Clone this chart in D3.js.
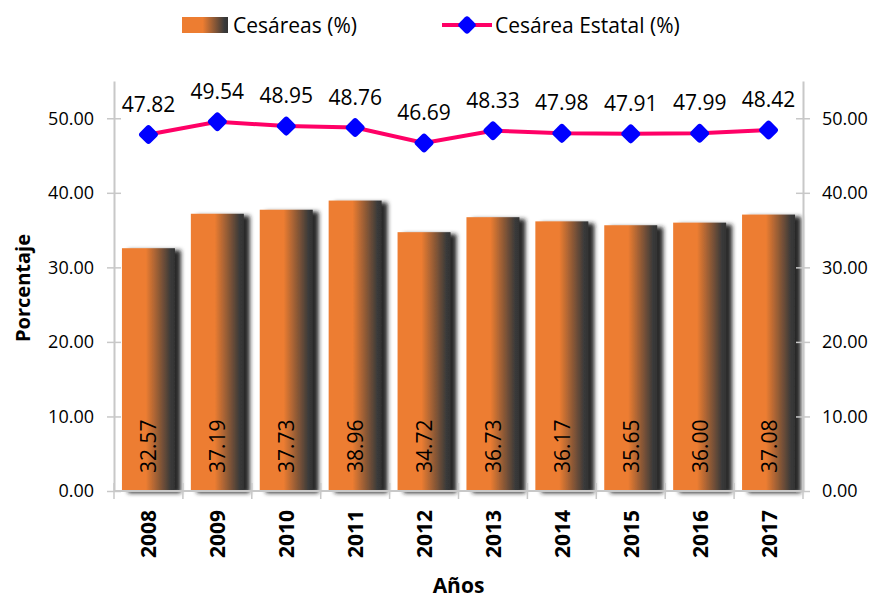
<!DOCTYPE html>
<meta charset="utf-8">
<script src="https://d3js.org/d3.v7.min.js"></script>
<style>
  body { margin: 0; background: #fff; }
  svg text { fill: #000; }
</style>
<body>
<div id="chart"></div>
<script>
// data
var years = ["2008", "2009", "2010", "2011", "2012", "2013", "2014", "2015", "2016", "2017"];
var cesareas = [32.57, 37.19, 37.73, 38.96, 34.72, 36.73, 36.17, 35.65, 36.00, 37.08];
var estatal = [47.82, 49.54, 48.95, 48.76, 46.69, 48.33, 47.98, 47.91, 47.99, 48.42];
var yTicks = [0, 10, 20, 30, 40, 50];

var W = 873, H = 599;
var plotLeft = 114, plotRight = 803, plotTop = 81, base = 491;

var svg = d3.select("#chart").append("svg")
  .attr("width", W).attr("height", H);

var defs = svg.append("defs");
var grad = defs.append("linearGradient").attr("id", "barGrad")
  .attr("x1", "0%").attr("x2", "100%").attr("y1", "0%").attr("y2", "0%");
grad.append("stop").attr("offset", "0%").attr("stop-color", "#ED7D31");
grad.append("stop").attr("offset", "45%").attr("stop-color", "#ED7D31");
grad.append("stop").attr("offset", "92%").attr("stop-color", "#3a3a3a");
grad.append("stop").attr("offset", "100%").attr("stop-color", "#333");

var shadow = defs.append("filter").attr("id", "shadow")
  .attr("x", "-20%").attr("y", "-20%").attr("width", "150%").attr("height", "150%");
shadow.append("feDropShadow").attr("dx", 6).attr("dy", 2)
  .attr("stdDeviation", 2).attr("flood-color", "#1a1a1a").attr("flood-opacity", 0.95);

var x = d3.scaleBand().domain(years).range([plotLeft, plotRight]).paddingInner(0).paddingOuter(0);
var y = d3.scaleLinear().domain([0, 55]).range([base, plotTop]);

var font = "'Open Sans', 'DejaVu Sans', sans-serif";

// bars
var barW = 53;
svg.append("g").selectAll("rect")
  .data(cesareas)
  .enter().append("rect")
    .attr("x", function(d, i) { return x(years[i]) + x.bandwidth() / 2 - barW / 2; })
    .attr("y", function(d) { return y(d); })
    .attr("width", barW)
    .attr("height", function(d) { return base - y(d); })
    .attr("fill", "url(#barGrad)")
    .attr("filter", "url(#shadow)");

// axes
var axisColor = "#c8c8c8";
var yAxisL = d3.axisLeft(y).tickValues(yTicks).tickFormat(d3.format(".2f")).tickSize(0).tickPadding(20);
var gL = svg.append("g").attr("transform", "translate(" + plotLeft + ",0)").call(yAxisL);
var yAxisR = d3.axisRight(y).tickValues(yTicks).tickFormat(d3.format(".2f")).tickSize(0).tickPadding(19);
var gR = svg.append("g").attr("transform", "translate(" + plotRight + ",0)").call(yAxisR);
[gL, gR].forEach(function(g) {
  g.select(".domain").attr("stroke", axisColor).attr("stroke-width", 2);
  g.selectAll(".tick text").attr("font-family", font).attr("font-size", 18).attr("fill", "#000");
  g.selectAll(".tick").append("line").attr("x1", -7).attr("x2", 7)
    .attr("stroke", axisColor).attr("stroke-width", 1.5);
});

// bottom axis line and crossing ticks
svg.append("line").attr("x1", plotLeft).attr("x2", plotRight).attr("y1", base).attr("y2", base)
  .attr("stroke", axisColor).attr("stroke-width", 2);
var bounds = years.map(function(d) { return x(d); }).concat([plotRight]);
svg.append("g").selectAll("line").data(bounds).enter().append("line")
  .attr("x1", function(d) { return d; }).attr("x2", function(d) { return d; })
  .attr("y1", base - 8).attr("y2", base + 8)
  .attr("stroke", axisColor).attr("stroke-width", 1.5);

// year labels
svg.append("g").selectAll("text").data(years).enter().append("text")
  .attr("transform", function(d) { return "translate(" + (x(d) + x.bandwidth() / 2 + 8) + "," + 510 + ") rotate(-90)"; })
  .attr("text-anchor", "end")
  .attr("font-family", font).attr("font-weight", "bold").attr("font-size", 21)
  .text(function(d) { return d; });

// bar value labels
svg.append("g").selectAll("text").data(cesareas).enter().append("text")
  .attr("transform", function(d, i) { return "translate(" + (x(years[i]) + x.bandwidth() / 2 + 8) + "," + (base - 18) + ") rotate(-90)"; })
  .attr("text-anchor", "start")
  .attr("font-family", font).attr("font-size", 21)
  .text(function(d) { return d.toFixed(2); });

// line
var line = d3.line()
  .x(function(d, i) { return x(years[i]) + x.bandwidth() / 2; })
  .y(function(d) { return y(d); });
svg.append("path").datum(estatal)
  .attr("d", line).attr("fill", "none")
  .attr("stroke", "#FF0066").attr("stroke-width", 4);

var mk = 15;
svg.append("g").selectAll("rect").data(estatal).enter().append("rect")
  .attr("x", function(d, i) { return x(years[i]) + x.bandwidth() / 2 - mk / 2; })
  .attr("y", function(d) { return y(d) - mk / 2; })
  .attr("width", mk).attr("height", mk).attr("rx", 3)
  .attr("fill", "#0000FF")
  .attr("transform", function(d, i) {
    var cx = x(years[i]) + x.bandwidth() / 2, cy = y(d);
    return "rotate(45," + cx + "," + cy + ")";
  });

svg.append("g").selectAll("text").data(estatal).enter().append("text")
  .attr("x", function(d, i) { return x(years[i]) + x.bandwidth() / 2; })
  .attr("y", function(d) { return y(d) - 23; })
  .attr("text-anchor", "middle")
  .attr("font-family", font).attr("font-size", 21)
  .text(function(d) { return d.toFixed(2); });

// axis titles
svg.append("text")
  .attr("x", (plotLeft + plotRight) / 2).attr("y", 593)
  .attr("text-anchor", "middle")
  .attr("font-family", font).attr("font-weight", "bold").attr("font-size", 21)
  .text("Años");
svg.append("text")
  .attr("transform", "translate(30," + 288 + ") rotate(-90)")
  .attr("text-anchor", "middle")
  .attr("font-family", font).attr("font-weight", "bold").attr("font-size", 20)
  .text("Porcentaje");

// legend
var lg = svg.append("g");
lg.append("rect").attr("x", 182).attr("y", 17).attr("width", 46).attr("height", 16)
  .attr("fill", "url(#barGrad)");
lg.append("text").attr("x", 233).attr("y", 33)
  .attr("font-family", font).attr("font-size", 21).text("Cesáreas (%)");
lg.append("line").attr("x1", 442).attr("x2", 492).attr("y1", 25).attr("y2", 25)
  .attr("stroke", "#FF0066").attr("stroke-width", 4);
lg.append("rect").attr("x", 467 - 7).attr("y", 25 - 7).attr("width", 14).attr("height", 14)
  .attr("rx", 3).attr("fill", "#0000FF").attr("transform", "rotate(45,467,25)");
lg.append("text").attr("x", 495).attr("y", 33)
  .attr("font-family", font).attr("font-size", 21).text("Cesárea Estatal (%)");
</script>
</body>
